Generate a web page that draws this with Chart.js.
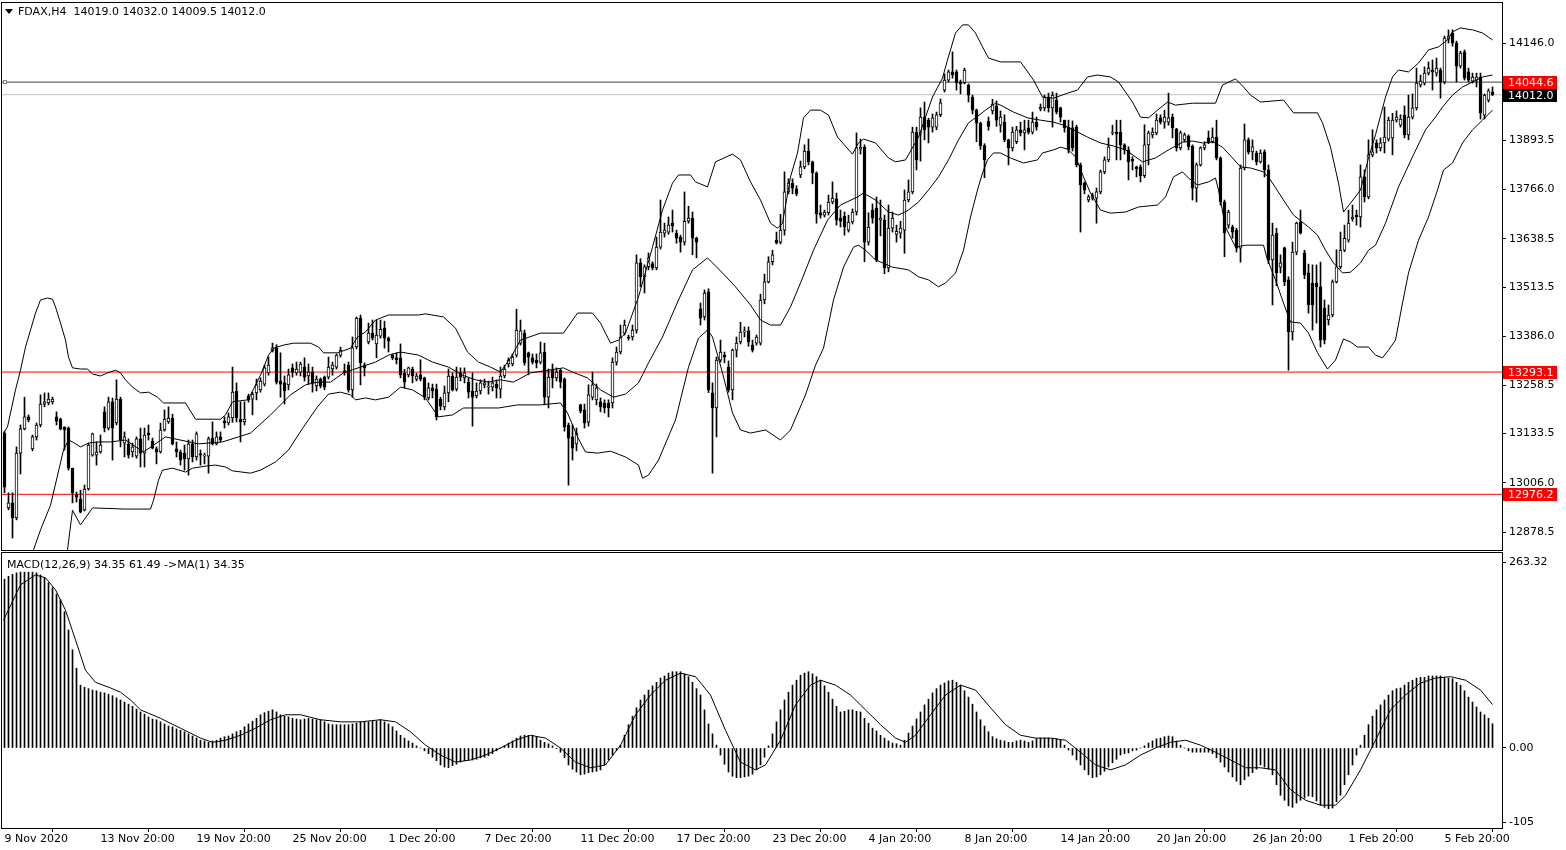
<!DOCTYPE html>
<html>
<head>
<meta charset="utf-8">
<script src="https://cdn.jsdelivr.net/npm/chart.js@4.4.1/dist/chart.umd.min.js"></script>
<style>
html, body { margin: 0; padding: 0; background: #fff; }
#wrap { position: relative; width: 1566px; height: 850px; overflow: hidden; }
#priceChart { position: absolute; left: 0; top: 0; }
#macdChart { position: absolute; left: 0; top: 552px; }
</style>
</head>
<body>
<div id="wrap">
  <canvas id="priceChart" width="1566" height="552"></canvas>
  <canvas id="macdChart" width="1566" height="298"></canvas>
</div>
<script>
// FDAX H4 candles, one entry per bar (bar 0 = 9 Nov 2020 20:00)
const opens = [
  13135,12941,12954,12915,13083,13146,13177,13094,13125,13156,
  13210,13213,13216,13177,13171,13151,13148,13044,12974,12964,
  12936,12990,13078,13078,13086,13190,13148,13216,13161,13223,
  13109,13107,13086,13075,13120,13083,13135,13114,13094,13086,
  13143,13164,13174,13094,13086,13083,13068,13107,13073,13081,
  13075,13075,13122,13107,13125,13166,13161,13174,13244,13171,
  13164,13231,13223,13239,13247,13262,13291,13348,13356,13270,
  13265,13260,13304,13291,13293,13306,13283,13293,13257,13275,
  13280,13280,13301,13306,13337,13296,13311,13247,13358,13433,
  13311,13371,13394,13366,13386,13407,13381,13337,13330,13330,
  13290,13286,13301,13275,13286,13278,13226,13252,13249,13223,
  13203,13239,13283,13249,13291,13278,13267,13244,13231,13244,
  13260,13254,13254,13262,13249,13283,13314,13314,13337,13368,
  13394,13343,13330,13324,13319,13345,13228,13298,13278,13298,
  13275,13156,13125,13107,13208,13195,13163,13228,13221,13216,
  13213,13213,13213,13319,13345,13394,13384,13384,13402,13576,
  13540,13566,13574,13563,13617,13653,13656,13679,13653,13643,
  13630,13684,13692,13640,13457,13436,13501,13239,13200,13324,
  13337,13306,13247,13350,13371,13397,13400,13363,13368,13368,
  13480,13527,13579,13635,13630,13661,13760,13783,13768,13804,
  13825,13866,13838,13809,13706,13700,13706,13734,13742,13692,
  13697,13661,13682,13708,13871,13876,13630,13713,13718,13687,
  13687,13563,13666,13650,13653,13661,13739,13760,13915,13912,
  13954,13946,13928,13928,13960,14024,14050,14071,14071,14045,
  14043,14037,14006,13972,13938,13880,13943,13970,13983,13933,
  13941,13895,13874,13890,13921,13913,13926,13915,13941,13975,
  13978,14006,13978,13998,13978,13946,13928,13926,13928,13830,
  13783,13739,13744,13744,13760,13812,13843,13913,13915,13915,
  13882,13869,13845,13825,13825,13802,13882,13908,13913,13952,
  13941,13941,13954,13923,13874,13895,13905,13879,13770,13830,
  13874,13900,13890,13902,13848,13734,13674,13669,13661,13614,
  13822,13895,13864,13861,13838,13864,13817,13584,13653,13565,
  13615,13532,13397,13604,13682,13602,13550,13524,13524,13514,
  13459,13428,13441,13527,13566,13609,13635,13690,13700,13695,
  13799,13747,13856,13887,13874,13887,13897,13900,13946,13933,
  13959,13908,13954,13978,14037,14042,14068,14076,14068,14076,
  14045,14156,14172,14146,14086,14123,14071,14047,14050,14058,
  13959,13998,14019
];
const highs = [
  13140,12980,12980,13099,13156,13228,13182,13130,13161,13234,
  13239,13239,13228,13190,13174,13151,13151,13044,12982,12987,
  13000,13109,13135,13112,13130,13203,13228,13226,13273,13228,
  13138,13120,13109,13125,13148,13148,13156,13122,13099,13161,
  13195,13203,13184,13112,13091,13104,13117,13117,13138,13091,
  13083,13125,13164,13138,13138,13177,13187,13306,13265,13216,
  13216,13236,13241,13275,13278,13311,13332,13368,13364,13343,
  13283,13301,13314,13319,13319,13330,13314,13306,13283,13278,
  13283,13332,13319,13340,13358,13314,13319,13384,13436,13441,
  13317,13420,13428,13428,13428,13425,13384,13340,13343,13366,
  13300,13306,13306,13290,13325,13280,13265,13262,13262,13228,
  13257,13301,13291,13306,13304,13304,13278,13291,13265,13273,
  13275,13270,13280,13273,13306,13311,13330,13340,13456,13428,
  13402,13345,13340,13340,13371,13368,13301,13314,13304,13301,
  13278,13161,13156,13148,13210,13210,13260,13293,13262,13226,
  13221,13221,13330,13358,13415,13428,13389,13415,13597,13587,
  13571,13602,13579,13643,13739,13679,13695,13713,13661,13648,
  13760,13723,13708,13643,13472,13506,13509,13265,13332,13376,
  13345,13322,13353,13384,13422,13410,13410,13376,13389,13495,
  13547,13592,13609,13656,13702,13812,13794,13794,13776,13840,
  13882,13897,13840,13812,13726,13713,13752,13786,13757,13713,
  13708,13700,13716,13913,13897,13882,13706,13729,13747,13739,
  13700,13726,13708,13674,13684,13765,13791,13928,13928,13978,
  13993,13951,13962,13967,14001,14066,14076,14123,14076,14050,
  14081,14040,14011,13975,13941,13885,13954,14000,13996,13970,
  13960,13897,13928,13930,13941,13946,13946,13967,13954,13988,
  14011,14016,14019,14016,13980,13946,13946,13944,13933,13835,
  13786,13752,13757,13770,13817,13851,13900,13933,13946,13946,
  13885,13877,13851,13827,13830,13934,13918,13926,13962,13960,
  13972,14016,13962,13925,13918,13913,13908,13882,13835,13877,
  13890,13918,13926,13946,13851,13739,13713,13674,13666,13830,
  13936,13900,13895,13866,13869,13869,13830,13679,13666,13597,
  13617,13540,13630,13682,13713,13609,13573,13571,13571,13578,
  13480,13467,13532,13610,13656,13674,13713,13726,13713,13830,
  13817,13895,13921,13895,13900,13980,13954,13964,13970,13960,
  13983,14011,14014,14081,14063,14084,14097,14102,14107,14081,
  14164,14180,14180,14151,14125,14128,14081,14068,14068,14068,
  14014,14027,14032
];
const lows = [
  12980,12936,12863,12910,13029,13143,13164,13089,13117,13151,
  13203,13208,13210,13156,13143,13091,13039,12954,12956,12928,
  12933,12987,13075,13052,13083,13138,13143,13065,13156,13099,
  13073,13070,13073,13070,13047,13047,13117,13094,13055,13083,
  13140,13160,13104,13073,13052,13039,13026,13060,13065,13052,
  13055,13031,13104,13104,13112,13148,13156,13163,13164,13112,
  13156,13215,13182,13221,13241,13257,13285,13345,13262,13228,
  13210,13247,13280,13285,13283,13270,13262,13241,13244,13252,
  13247,13275,13285,13301,13332,13285,13241,13228,13353,13260,
  13283,13366,13376,13330,13381,13355,13345,13325,13314,13278,
  13252,13280,13265,13270,13270,13221,13221,13226,13169,13195,
  13195,13216,13244,13244,13270,13265,13226,13153,13226,13236,
  13252,13236,13244,13226,13226,13278,13306,13309,13332,13363,
  13311,13286,13314,13304,13314,13208,13200,13252,13270,13252,
  13140,13000,13065,13089,13187,13148,13153,13221,13208,13190,
  13187,13177,13200,13311,13340,13389,13376,13376,13394,13514,
  13498,13558,13558,13558,13612,13643,13650,13656,13627,13604,
  13622,13679,13597,13589,13415,13428,13240,13031,13125,13319,
  13317,13241,13221,13332,13366,13384,13360,13345,13363,13363,
  13470,13524,13571,13625,13625,13648,13755,13755,13750,13797,
  13820,13830,13781,13679,13692,13695,13700,13729,13674,13669,
  13648,13656,13677,13700,13858,13579,13622,13679,13579,13646,
  13548,13553,13656,13630,13640,13601,13734,13755,13817,13840,
  13895,13887,13915,13921,13955,14019,14045,14055,14024,14014,
  14040,13993,13962,13890,13870,13797,13920,13962,13930,13915,
  13890,13830,13866,13885,13905,13869,13910,13910,13920,13970,
  13970,13967,13928,13962,13941,13915,13861,13866,13825,13656,
  13755,13734,13739,13679,13755,13807,13838,13908,13843,13843,
  13858,13791,13817,13799,13786,13797,13830,13900,13908,13936,
  13925,13933,13900,13866,13869,13890,13869,13739,13734,13827,
  13869,13885,13887,13843,13726,13592,13666,13640,13604,13578,
  13817,13858,13843,13830,13835,13799,13574,13467,13517,13550,
  13517,13298,13376,13597,13651,13535,13446,13402,13420,13358,
  13366,13415,13436,13524,13561,13605,13630,13684,13674,13669,
  13734,13742,13851,13861,13866,13861,13892,13856,13941,13928,
  13900,13895,13949,13972,14032,14037,14063,14024,14060,14003,
  14040,14146,14138,14045,14081,14050,14045,14042,14032,13949,
  13949,13993,14009.5
];
const closes = [
  12995,12954,12915,13083,13146,13177,13169,13125,13156,13210,
  13216,13223,13223,13166,13146,13143,13044,12980,12969,12930,
  12990,13104,13133,13086,13104,13148,13216,13148,13223,13117,
  13125,13078,13099,13120,13083,13130,13130,13096,13086,13143,
  13171,13174,13107,13086,13065,13068,13107,13073,13133,13078,
  13078,13120,13107,13125,13117,13161,13177,13241,13174,13164,
  13171,13221,13236,13260,13270,13304,13311,13356,13267,13262,
  13244,13286,13293,13301,13314,13280,13293,13265,13275,13257,
  13254,13306,13311,13337,13350,13291,13247,13356,13433,13317,
  13304,13394,13381,13389,13404,13381,13373,13330,13325,13286,
  13267,13304,13283,13283,13275,13228,13252,13244,13177,13205,
  13239,13283,13247,13280,13280,13291,13241,13228,13244,13265,
  13265,13257,13265,13252,13283,13301,13324,13332,13402,13400,
  13317,13332,13319,13317,13343,13228,13280,13278,13293,13267,
  13151,13122,13096,13135,13192,13161,13234,13260,13252,13203,
  13200,13200,13319,13345,13384,13415,13381,13402,13576,13540,
  13566,13589,13563,13617,13656,13661,13674,13672,13640,13630,
  13684,13692,13640,13630,13433,13498,13247,13200,13324,13345,
  13332,13247,13350,13368,13397,13400,13371,13350,13384,13480,
  13527,13579,13597,13628,13661,13760,13783,13770,13755,13825,
  13866,13838,13809,13703,13700,13708,13734,13744,13687,13684,
  13669,13682,13708,13874,13876,13630,13669,13692,13584,13692,
  13563,13666,13692,13658,13666,13739,13760,13915,13843,13954,
  13921,13928,13952,13960,13991,14050,14071,14063,14043,14040,
  14076,14011,13972,13938,13880,13843,13930,13988,13946,13954,
  13895,13874,13915,13921,13913,13921,13915,13941,13928,13980,
  14006,13978,14011,13967,13954,13926,13869,13874,13830,13778,
  13765,13747,13752,13760,13812,13843,13877,13915,13910,13882,
  13869,13838,13840,13820,13802,13882,13913,13915,13946,13941,
  13954,13952,13926,13874,13913,13908,13877,13770,13830,13874,
  13882,13890,13902,13848,13734,13654,13708,13656,13614,13822,
  13895,13863,13877,13838,13861,13817,13584,13648,13550,13576,
  13527,13397,13604,13679,13653,13545,13467,13467,13514,13376,
  13376,13441,13527,13566,13609,13640,13679,13695,13695,13799,
  13747,13856,13864,13874,13887,13902,13946,13946,13954,13949,
  13908,13954,13978,14042,14047,14068,14081,14071,14081,14045,
  14159,14164,14146,14086,14120,14055,14050,14058,14058,13964,
  14011,14022,14012
];

// Bollinger bands: bar position and price
const upperIdx = [-0.25,0.75,1.5,2.75,4,5.25,6.5,7.75,9,10.75,12,12.75,14,15.25,16,17,19,20.75,22,24,25.75,27.75,29,30.25,32,34,36,38.25,39.75,45.25,47.75,54,55.25,57,60.75,61.5,64,66,67.25,69.75,72.25,76.5,78.5,79.75,83.25,86.5,88.25,90.25,92.75,96,103.5,105.25,109.75,112.75,115.75,118.5,121.5,124,126.5,129,134,139.75,143.25,147,149,151.5,153.5,155.25,158.5,162,164.5,167,168.5,171.5,172.75,175.75,177.75,182,184,186.5,189,191.5,193.25,194.5,196.5,198.25,199.75,201.5,204,206,208.25,212,213.5,214.75,217.75,221,222.75,225.25,228.5,232,234.5,235.75,237.75,239.5,241,242.75,244.5,246,249,254,257.25,259.5,262.25,265.75,268.25,270.75,273.25,276.5,278.5,280.25,282,284,286,288.25,290.75,292.75,297,302.75,304.5,307.75,309.75,311.5,314,319.75,322.25,328.25,329.5,331.5,333.5,334.75,336.5,339,341,342.75,345.25,347,348.5,351,353.5,356,358.5,360.75,362,364,367,369.5,372];
const upperVal = [13135,13151,13187,13247,13298,13358,13402,13446,13480,13485,13482,13462,13420,13376,13332,13304,13301,13301,13288,13283,13291,13298,13291,13273,13254,13239,13241,13228,13213,13213,13171,13171,13182,13216,13221,13234,13285,13337,13355,13363,13368,13368,13358,13343,13343,13355,13384,13397,13428,13441,13441,13444,13436,13407,13345,13319,13306,13293,13330,13376,13394,13394,13446,13446,13420,13368,13376,13394,13488,13617,13713,13783,13804,13804,13786,13773,13838,13858,13843,13786,13739,13679,13666,13679,13799,13861,13952,13972,13972,13959,13902,13858,13887,13897,13887,13848,13838,13843,13902,14006,14055,14102,14172,14193,14193,14172,14136,14107,14097,14097,14050,14006,14003,14016,14024,14058,14063,14058,14045,14019,13993,13954,13952,13972,13993,13985,13990,13990,14037,14053,14032,14011,13993,13998,13965,13965,13939,13876,13783,13708,13731,13765,13848,13908,14006,14058,14076,14071,14094,14128,14136,14154,14175,14185,14180,14172,14154];
const middleIdx = [7.25,9,11.5,14.75,16,17,19,21,23.25,26.5,30.25,34.75,40.25,48.5,54.5,61.5,66.5,71.5,75.25,78.25,81.5,84.75,89,92.75,96,99,103.5,107,111,114.5,117.75,121,124,127.25,131.5,134.75,139.75,142,145.75,149,152.25,155.25,158.5,161,164.5,168.5,172,175.75,179.5,182.75,186.5,189,191.5,194,196.5,199,202.25,205.75,209,213.25,214.75,217.75,221,223.5,226,228.5,231,233.5,236,238.5,241,242.75,245.25,247.75,249,252.25,255.75,259,262.25,264.75,267.25,270.75,274,277.25,280.25,284.5,287.75,291,294.5,297,299.5,302.25,304.5,307,309,311.5,314.75,316.5,319.75,322.25,326,328.25,330.25,332.25,334.5,336.5,339,341,342.75,345.25,348.5,352,355.25,357.75,359.5,362,364.5,367,369.5,372];
const middleVal = [12832,12884,12948,13091,13117,13112,13099,13109,13112,13112,13117,13086,13125,13107,13112,13135,13182,13234,13260,13267,13267,13291,13306,13319,13337,13345,13337,13319,13306,13285,13273,13267,13273,13267,13291,13296,13304,13293,13278,13247,13228,13236,13265,13317,13384,13480,13558,13589,13550,13514,13467,13428,13415,13415,13462,13524,13609,13687,13726,13747,13757,13739,13708,13700,13713,13734,13765,13799,13843,13895,13939,13952,13972,13990,13985,13967,13952,13946,13941,13933,13921,13902,13887,13879,13869,13838,13848,13869,13889,13892,13887,13889,13876,13848,13825,13822,13812,13791,13739,13700,13669,13648,13609,13576,13550,13552,13576,13609,13622,13679,13773,13851,13921,13954,13980,14011,14032,14045,14058,14063];
const lowerIdx = [15.75,17,19,22,30.25,36.5,37.25,38.5,39.5,42,45.25,47,50.75,52.75,55.25,57,61.5,64,67.75,71,74.75,78.25,81,84,86.5,87.75,90.25,92.75,96,99,102,105.25,108.5,112,114.75,123.5,128.25,134,139,140.75,143.25,145.25,148.25,151.5,155.25,158.5,159.5,161,163.5,167.75,171,173.5,175.75,177,179.5,182,184,186.5,190.25,194,196.5,200.25,202.75,204.75,207.25,209.75,212.25,213.5,215.25,217.75,222,226,228.5,231,233.5,235.25,237.75,239.75,241.5,243.25,244.5,245.75,247.25,249,251.5,254.75,258.25,259.5,262.25,264,265.75,267.75,269.75,271.5,274,276.5,280.25,283.5,288.25,290.25,292.25,294.5,296,298.25,301,302.75,303.5,305.25,307.75,310.25,314.75,315.75,317.75,319.75,321.5,324,326,328.25,330.75,332.75,334.75,336.5,338.25,341,342.75,344.5,346,347.75,349.5,351,353.5,356,358.25,359.75,362,364.5,367,369.5,372];
const lowerVal = [12832,12935,12897,12941,12938,12938,12961,13013,13039,13044,13034,13044,13050,13052,13047,13037,13031,13039,13060,13091,13151,13203,13236,13241,13234,13221,13226,13221,13228,13254,13247,13226,13177,13182,13200,13200,13208,13208,13213,13187,13125,13086,13083,13088,13073,13052,13018,13026,13065,13169,13306,13381,13402,13384,13291,13187,13143,13135,13143,13117,13143,13234,13311,13355,13480,13565,13617,13622,13609,13584,13565,13558,13540,13532,13514,13524,13550,13609,13695,13765,13809,13843,13861,13861,13848,13835,13843,13861,13869,13876,13871,13851,13799,13757,13713,13705,13708,13721,13726,13747,13799,13812,13796,13778,13786,13796,13765,13669,13617,13622,13622,13584,13532,13472,13423,13420,13394,13343,13301,13324,13379,13371,13358,13358,13337,13330,13350,13376,13472,13550,13635,13695,13765,13817,13835,13887,13921,13946,13972];

// MACD(12,26,9) main value per bar, and the signal line read at sample bars
const macdHist = [
  239,243,246,248,249,249,249,249,248,245,
  241,234,227,218,210,193,167,139,113,89,
  86,84,82,81,79,78,76,74,71,68,
  65,62,59,55,51,48,44,41,40,37,
  34,31,30,27,25,23,20,17,14,11,
  10,8,10,11,14,16,17,20,23,25,
  30,34,38,42,47,50,52,54,51,47,
  45,44,42,41,40,41,42,41,40,40,
  37,34,33,33,33,33,33,34,35,37,
  37,37,38,38,40,37,34,30,24,18,
  14,10,7,3,0,-4,-8,-13,-18,-24,
  -27,-28,-25,-23,-20,-18,-17,-17,-16,-14,
  -13,-11,-8,-4,0,3,7,10,14,17,
  18,18,18,16,11,8,6,3,-1,-6,
  -14,-24,-30,-34,-38,-37,-35,-34,-33,-31,
  -24,-17,-10,-3,4,18,33,45,57,68,
  75,82,88,93,99,102,106,108,108,108,
  105,101,93,84,75,54,34,20,4,-10,
  -23,-34,-40,-42,-42,-41,-40,-37,-31,-24,
  -13,3,20,37,54,68,79,89,96,103,
  106,108,105,101,96,88,79,69,59,51,
  52,54,54,52,51,42,35,28,24,18,
  14,10,7,6,4,11,21,31,41,51,
  61,69,78,84,89,92,95,96,93,89,
  81,72,62,51,40,31,23,16,13,11,
  10,8,8,10,11,10,8,10,13,14,
  14,14,14,13,11,4,-3,-10,-17,-24,
  -31,-38,-42,-41,-38,-33,-27,-21,-16,-10,
  -8,-7,-4,-3,0,3,7,10,13,14,
  16,17,16,10,4,0,-4,-6,-6,-6,
  -6,-6,-8,-14,-20,-27,-34,-41,-47,-52,
  -45,-40,-35,-30,-24,-27,-30,-38,-52,-67,
  -74,-82,-84,-78,-74,-71,-68,-69,-75,-81,
  -84,-86,-85,-76,-67,-52,-38,-24,-10,4,
  18,33,45,54,61,68,75,81,84,85,
  89,93,96,99,100,100,102,102,102,102,
  100,99,98,93,89,81,72,65,58,51,
  47,42,34.35
];
const signalIdx = [-0.25,4,7.75,10.25,12.75,15.25,17.75,20.25,22.75,26.5,29,31.5,34,39,44,49,52,55.25,59,62.75,66.5,70.25,74,79,84,89,94,97.75,101.5,105.25,109,112.75,116.5,120.25,124,127.75,131.5,135.25,139,142.75,146.5,150.25,154,157.75,161.5,165.25,169,172.75,176.5,180.25,184,187.75,190.25,194,197.75,201.5,204,207.75,211.5,215.25,219,222.75,225.25,227.75,231.5,235.25,239,242.75,246.5,250.25,254,257.75,261.5,265.25,269,272.75,276.5,280.25,284,287.75,291.5,295.25,299,302.75,306.5,310.25,314,317.75,321.5,325.25,329,332.75,335.25,339,342.75,346.5,350.25,354,357.75,361.5,365.25,369,372];
const signalVal = [181,231,245,241,224,195,153,110,93,85,79,68,54,42,28,14,8,11,18,28,40,47,47,40,37,37,40,37,23,4,-10,-20,-17,-10,0,11,18,14,0,-20,-28,-24,4,47,75,96,106,101,75,25,-20,-31,-24,11,61,89,96,89,75,54,33,14,8,18,47,75,89,82,57,33,18,14,14,11,-6,-24,-31,-24,-10,0,8,11,4,-6,-17,-28,-28,-31,-59,-74,-81,-81,-67,-31,11,54,75,92,99,101,96,82,61.49];

// axis ticks
const priceTicks = [14146.0, 13893.5, 13766.0, 13638.5, 13513.5, 13386.0, 13258.5, 13133.5, 13006.0, 12878.5];
const macdTicks = [263.32, 0, -105];
const macdTickText = ['263.32', '0.00', '-105'];
const timeTickIdx = [0, 24, 48, 72, 96, 120, 144, 168, 192, 216, 240, 264, 288, 312, 336, 360];
const timeTickText = ['9 Nov 2020', '13 Nov 20:00', '19 Nov 20:00', '25 Nov 20:00', '1 Dec 20:00', '7 Dec 20:00',
  '11 Dec 20:00', '17 Dec 20:00', '23 Dec 20:00', '4 Jan 20:00', '8 Jan 20:00', '14 Jan 20:00',
  '20 Jan 20:00', '26 Jan 20:00', '1 Feb 20:00', '5 Feb 20:00'];

// horizontal levels: drawn line, bid line, two support lines
const levelLine = 14044.6;
const bidLine = 14012.0;
const supportLines = [13293.1, 12976.2];

const FONT = '"DejaVu Sans", sans-serif';
Chart.defaults.font.family = FONT;
Chart.defaults.font.size = 11;
Chart.defaults.color = '#000';

const xMin = -0.625, xMax = 374.375;
const fitRight = (scale) => { scale.width = 64; scale.paddingTop = 0; scale.paddingBottom = 0; };

const bodies = opens.map((o, i) => ({ x: i, y: [o, closes[i]] }));
const wicks = lows.map((l, i) => ({ x: i, y: [l, highs[i]] }));
const bodyFill = opens.map((o, i) => closes[i] >= o ? '#ffffff' : '#000000');
const toPoints = (xs, ys) => xs.map((x, k) => ({ x: x, y: ys[k] }));
const flat = (v) => [{ x: xMin, y: v }, { x: xMax, y: v }];
const lineSet = (data, color, order) => ({
  type: 'line', data: data, borderColor: color, borderWidth: 1,
  pointRadius: 0, tension: 0, order: order
});

const frame = {
  id: 'frame',
  afterDraw(chart) {
    const { ctx, chartArea: a } = chart;
    ctx.save();
    ctx.strokeStyle = '#000';
    ctx.lineWidth = 1;
    ctx.strokeRect(a.left - 0.5, a.top - 0.5, a.right - a.left + 1, a.bottom - a.top + 1);
    ctx.restore();
  }
};

const priceTags = {
  id: 'priceTags',
  afterDraw(chart) {
    const { ctx, chartArea: a, scales } = chart;
    const tags = [[levelLine, '#ff0000'], [bidLine, '#000000'], [supportLines[0], '#ff0000'], [supportLines[1], '#ff0000']];
    ctx.save();
    ctx.font = '11px ' + FONT;
    ctx.textBaseline = 'middle';
    tags.forEach(([v, c]) => {
      const py = Math.round(scales.y.getPixelForValue(v));
      ctx.fillStyle = c;
      ctx.fillRect(a.right + 1, py - 6, 54, 13);
      ctx.fillStyle = '#fff';
      ctx.fillText(v.toFixed(1), a.right + 6, py + 1);
    });
    // anchor of the drawn level line
    const ly = Math.round(scales.y.getPixelForValue(levelLine));
    ctx.fillStyle = '#fff';
    ctx.strokeStyle = '#808080';
    ctx.fillRect(a.left + 1, ly - 2, 4, 4);
    ctx.strokeRect(a.left + 1.5, ly - 1.5, 3, 3);
    // header
    ctx.fillStyle = '#000';
    ctx.beginPath();
    ctx.moveTo(a.left + 3, a.top + 6);
    ctx.lineTo(a.left + 11, a.top + 6);
    ctx.lineTo(a.left + 7, a.top + 11);
    ctx.closePath();
    ctx.fill();
    ctx.fillText('FDAX,H4  ' + [opens[opens.length - 1], highs[highs.length - 1], lows[lows.length - 1], closes[closes.length - 1]].map(v => v.toFixed(1)).join(' '), a.left + 16, a.top + 9);
    ctx.restore();
  }
};

new Chart(document.getElementById('priceChart'), {
  type: 'bar',
  data: {
    datasets: [
      lineSet(flat(supportLines[0]), '#ff0000', 6),
      lineSet(flat(supportLines[1]), '#ff0000', 6),
      lineSet(flat(bidLine), '#c0c0c0', 6),
      lineSet(flat(levelLine), '#404040', 6),
      { type: 'bar', data: wicks, backgroundColor: '#000', barThickness: 1, grouped: false, order: 4 },
      { type: 'bar', data: bodies, backgroundColor: bodyFill, borderColor: '#000', borderWidth: 1,
        borderSkipped: false, barThickness: 3, grouped: false, order: 3 },
      lineSet(toPoints(upperIdx, upperVal), '#000', 1),
      lineSet(toPoints(middleIdx, middleVal), '#000', 1),
      lineSet(toPoints(lowerIdx, lowerVal), '#000', 1)
    ]
  },
  options: {
    responsive: false,
    animation: false,
    devicePixelRatio: 1,
    layout: { padding: { left: 2, top: 3, right: 0, bottom: 2 } },
    plugins: { legend: { display: false }, tooltip: { enabled: false } },
    scales: {
      x: { type: 'linear', min: xMin, max: xMax, offset: false, display: false },
      y: {
        position: 'right', min: 12831.9, max: 14249.7,
        afterBuildTicks: (s) => { s.ticks = priceTicks.map(v => ({ value: v })); },
        afterFit: fitRight,
        ticks: { callback: (v) => Number(v).toFixed(1), padding: 3, font: { size: 11 } },
        grid: { drawOnChartArea: false, tickLength: 4, color: '#000' },
        border: { color: '#000' }
      }
    }
  },
  plugins: [frame, priceTags]
});

const macdLabel = {
  id: 'macdLabel',
  afterDraw(chart) {
    const { ctx, chartArea: a } = chart;
    const last = macdHist[macdHist.length - 1];
    ctx.save();
    ctx.font = '11px ' + FONT;
    ctx.fillStyle = '#000';
    ctx.textBaseline = 'middle';
    ctx.fillText('MACD(12,26,9) ' + last.toFixed(2) + ' ' + signalVal[signalVal.length - 1].toFixed(2) + ' ->MA(1) ' + last.toFixed(2), a.left + 5, a.top + 12);
    ctx.restore();
  }
};

new Chart(document.getElementById('macdChart'), {
  type: 'bar',
  data: {
    datasets: [
      { type: 'bar', data: macdHist.map((v, i) => ({ x: i, y: v })), backgroundColor: '#000',
        barThickness: 1, grouped: false, order: 2 },
      lineSet(toPoints(signalIdx, signalVal), '#000', 1)
    ]
  },
  options: {
    responsive: false,
    animation: false,
    devicePixelRatio: 1,
    layout: { padding: { left: 2, top: 1, right: 0, bottom: 0 } },
    plugins: { legend: { display: false }, tooltip: { enabled: false } },
    scales: {
      x: {
        type: 'linear', min: xMin, max: xMax, offset: false,
        afterBuildTicks: (s) => { s.ticks = timeTickIdx.map(v => ({ value: v })); },
        afterFit: (s) => { s.height = 22; s.paddingLeft = 0; s.paddingRight = 0; },
        ticks: { callback: (v) => timeTickText[timeTickIdx.indexOf(v)], align: 'start', autoSkip: false, maxRotation: 0, padding: 1 },
        grid: { drawOnChartArea: false, tickLength: 4, color: '#000' },
        border: { color: '#000' }
      },
      y: {
        position: 'right', min: -113.3, max: 276.1,
        afterBuildTicks: (s) => { s.ticks = macdTicks.map(v => ({ value: v })); },
        afterFit: fitRight,
        ticks: { callback: (v) => macdTickText[macdTicks.indexOf(v)], padding: 3 },
        grid: { drawOnChartArea: false, tickLength: 4, color: '#000' },
        border: { color: '#000' }
      }
    }
  },
  plugins: [frame, macdLabel]
});
</script>
</body>
</html>
